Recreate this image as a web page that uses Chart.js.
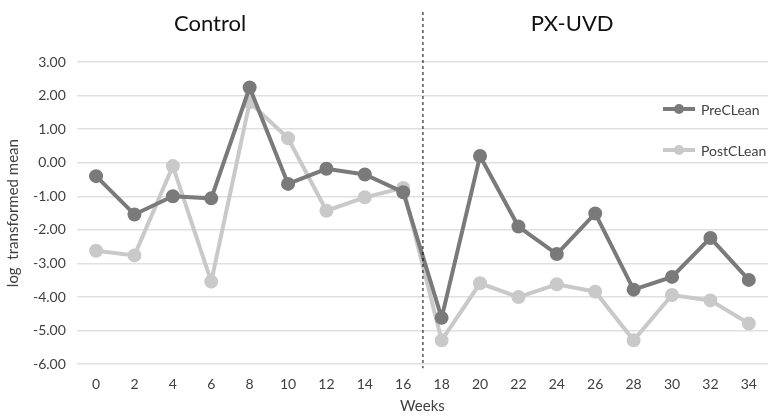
<!DOCTYPE html>
<html>
<head>
<meta charset="utf-8">
<script src="https://cdn.jsdelivr.net/npm/chart.js@4"></script>
<style>
  html, body { margin: 0; padding: 0; background: #fff; }
  #wrap { width: 768px; height: 415px; position: relative; }
</style>
</head>
<body>
<div id="wrap"><canvas id="c"></canvas></div>
<script>
const WEEKS = ['0','2','4','6','8','10','12','14','16','18','20','22','24','26','28','30','32','34'];
const PRE_CLEAN = [-0.40, -1.54, -1.00, -1.06, 2.24, -0.63, -0.18, -0.35, -0.88, -4.62, 0.20, -1.90, -2.72, -1.51, -3.78, -3.40, -2.24, -3.49];
const POST_CLEAN = [-2.62, -2.76, -0.10, -3.54, 1.80, 0.73, -1.43, -1.03, -0.75, -5.29, -3.59, -4.00, -3.62, -3.84, -5.29, -3.94, -4.10, -4.79];
const GROUPS = ['Control', 'PX-UVD'];

const FONT = 'Lato, "Open Sans", sans-serif';
const DARK = '#7a7a7a', LIGHT = '#c9c9c9';
const TXT = '#404040';

// section divider, group titles and the overlaid legend
const decor = {
  id: 'decor',
  afterDraw(chart) {
    const { ctx, chartArea, scales: { x } } = chart;
    const split = (x.getPixelForValue(8) + x.getPixelForValue(9)) / 2;
    ctx.save();
    ctx.strokeStyle = '#000'; ctx.lineWidth = 1; ctx.setLineDash([3, 3]);
    ctx.beginPath(); ctx.moveTo(split + 0.5, 12); ctx.lineTo(split + 0.5, chartArea.bottom + 4); ctx.stroke();
    ctx.setLineDash([]);

    ctx.fillStyle = '#111'; ctx.font = `22px ${FONT}`;
    ctx.textAlign = 'center'; ctx.textBaseline = 'middle';
    ctx.fillText(GROUPS[0], x.getPixelForValue(2.97), 24);
    ctx.fillText(GROUPS[1], x.getPixelForValue(12.4), 24);

    const items = [['PreCLean', DARK, 109], ['PostCLean', LIGHT, 150]];
    ctx.font = `14px ${FONT}`; ctx.textAlign = 'left';
    for (const [lab, col, y] of items) {
      ctx.strokeStyle = col; ctx.lineWidth = 4;
      ctx.beginPath(); ctx.moveTo(663, y); ctx.lineTo(695, y); ctx.stroke();
      ctx.fillStyle = col;
      ctx.beginPath(); ctx.arc(679, y, 5, 0, Math.PI * 2); ctx.fill();
      ctx.fillStyle = TXT;
      ctx.fillText(lab, 701, y + 1);
    }
    ctx.restore();
  }
};

const series = (label, data, col) => ({
  label, data,
  borderColor: col, backgroundColor: col,
  pointBackgroundColor: col, pointBorderColor: col,
  borderWidth: 4, pointRadius: 5, tension: 0,
});

new Chart(document.getElementById('c'), {
  type: 'line',
  data: { labels: WEEKS, datasets: [series('PreCLean', PRE_CLEAN, DARK), series('PostCLean', POST_CLEAN, LIGHT)] },
  options: {
    responsive: true, maintainAspectRatio: false, animation: false,
    layout: { autoPadding: false, padding: { top: 62, right: 0, left: 0, bottom: 0 } },
    plugins: { legend: { display: false }, tooltip: { enabled: false } },
    scales: {
      x: {
        offset: true,
        afterFit: s => { s.paddingLeft = 0; s.paddingRight = 0; },
        grid: { display: false },
        border: { display: false },
        ticks: { color: TXT, font: { family: FONT, size: 14 }, padding: 4 },
        title: { display: true, text: 'Weeks', color: TXT, font: { family: FONT, size: 15 }, padding: { top: 0, bottom: 0 } },
      },
      y: {
        min: -6, max: 3,
        ticks: { stepSize: 1, color: TXT, font: { family: FONT, size: 14 }, padding: 11,
                 callback: v => v.toFixed(2) },
        grid: { color: '#e0e0e0', lineWidth: 1.5, drawTicks: false },
        border: { display: false },
        title: { display: true, text: 'log  transformed mean', color: TXT, font: { family: FONT, size: 15 }, padding: { top: 4, bottom: 0 } },
      },
    },
  },
  plugins: [decor],
});
</script>
</body>
</html>
